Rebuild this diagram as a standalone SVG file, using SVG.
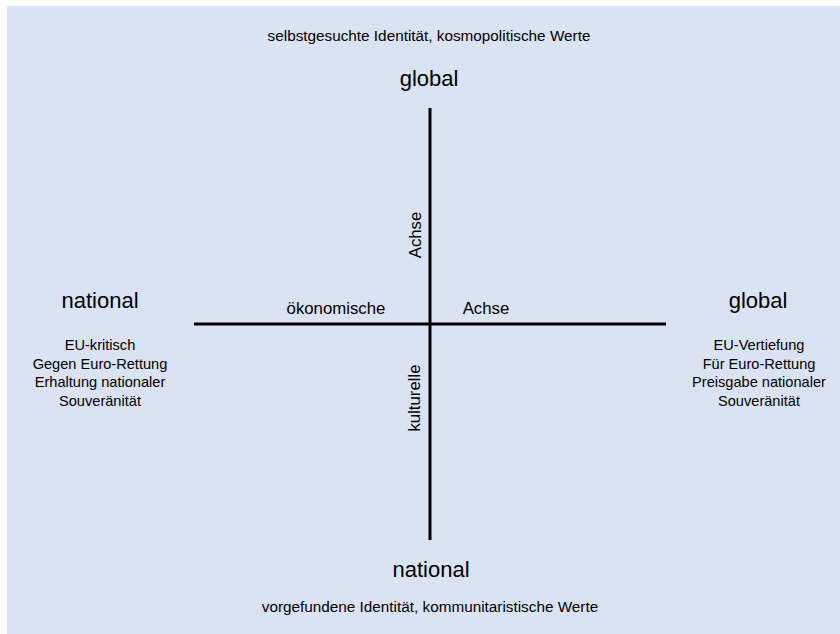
<svg xmlns="http://www.w3.org/2000/svg" width="840" height="634" viewBox="0 0 840 634">
<style>
text{font-family:"Liberation Sans",Arial,sans-serif;fill:#000;text-anchor:middle}
.pole{font-size:22px}
.note{font-size:15.3px}
.list{font-size:14.6px}
.axlab{font-size:16.8px}
.axis{stroke:#000;stroke-width:3;fill:none}
</style>
<rect x="0" y="0" width="840" height="634" fill="#ffffff"/>
<rect x="7" y="6" width="833" height="628" fill="#dae3f3"/>
<g id="connectors">
<line class="axis" x1="430" y1="108" x2="430" y2="540"/>
<line class="axis" x1="194" y1="324" x2="666" y2="324"/>
</g>
<g id="top">
<text class="note" x="429" y="41">selbstgesuchte Identität, kosmopolitische Werte</text>
<text class="pole" x="429" y="86">global</text>
</g>
<g id="bottom">
<text class="pole" x="431" y="577">national</text>
<text class="note" x="430" y="612">vorgefundene Identität, kommunitaristische Werte</text>
</g>
<g id="left">
<text class="pole" x="100" y="308">national</text>
<text class="list" x="100" y="350">EU-kritisch</text>
<text class="list" x="100" y="368.5">Gegen Euro-Rettung</text>
<text class="list" x="100" y="387">Erhaltung nationaler</text>
<text class="list" x="100" y="405.5">Souveränität</text>
</g>
<g id="right">
<text class="pole" x="758" y="308">global</text>
<text class="list" x="759" y="350">EU-Vertiefung</text>
<text class="list" x="759" y="368.5">Für Euro-Rettung</text>
<text class="list" x="759" y="387">Preisgabe nationaler</text>
<text class="list" x="759" y="405.5">Souveränität</text>
</g>
<g id="axis-labels">
<text class="axlab" x="336" y="314">ökonomische</text>
<text class="axlab" x="486" y="314">Achse</text>
<text class="axlab" transform="translate(421,235) rotate(-90)">Achse</text>
<text class="axlab" transform="translate(420,398) rotate(-90)">kulturelle</text>
</g>
</svg>
